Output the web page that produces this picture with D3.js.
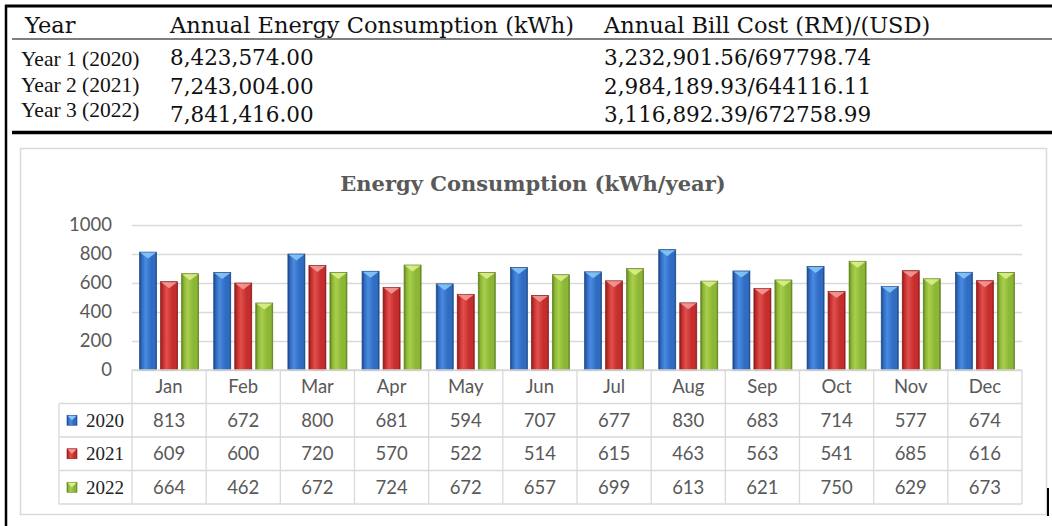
<!DOCTYPE html>
<html>
<head>
<meta charset="utf-8">
<script src="https://cdn.jsdelivr.net/npm/d3@7"></script>
<style>
  body { margin: 0; background: #fff; }
</style>
</head>
<body>
<div class="chart"></div>
<script>
// ---- data ----
const months = ['Jan', 'Feb', 'Mar', 'Apr', 'May', 'Jun', 'Jul', 'Aug', 'Sep', 'Oct', 'Nov', 'Dec']
const seriesYears = ['2020', '2021', '2022']
const values2020 = [813, 672, 800, 681, 594, 707, 677, 830, 683, 714, 577, 674]
const values2021 = [609, 600, 720, 570, 522, 514, 615, 463, 563, 541, 685, 616]
const values2022 = [664, 462, 672, 724, 672, 657, 699, 613, 621, 750, 629, 673]
const yTicks = [0, 200, 400, 600, 800, 1000]
const chartTitle = 'Energy Consumption (kWh/year)'

const summaryHeaders = ['Year', 'Annual Energy Consumption (kWh)', 'Annual Bill Cost (RM)/(USD)']
const summaryYears = ['Year 1 (2020)', 'Year 2 (2021)', 'Year 3 (2022)']
const annualEnergy = ['8,423,574.00', '7,243,004.00', '7,841,416.00']
const annualBill = ['3,232,901.56/697798.74', '2,984,189.93/644116.11', '3,116,892.39/672758.99']

const seriesValues = { '2020': values2020, '2021': values2021, '2022': values2022 }

// bar look: edge, mid, light, top facet
const palette = {
    '2020': { dark: '#1c4785', base: '#2f6cc2', light: '#4a8ae0', top: '#86c6f7' },
    '2021': { dark: '#8a1b1b', base: '#c52e2c', light: '#e0504c', top: '#f39a96' },
    '2022': { dark: '#5f7f1d', base: '#8cb636', light: '#a8cf4c', top: '#dcf08a' }
}

const W = 1052, H = 526
const grey = '#595959', gridCol = '#d9d9d9'
const serif = '"DejaVu Serif", serif'
const times = '"Liberation Serif", "Times New Roman", serif'
const sans = 'Lato, "Open Sans", sans-serif'

const svg = d3.select('.chart').append('svg')
    .attr('width', W)
    .attr('height', H)
    .style('display', 'block')

svg.append('rect').attr('width', W).attr('height', H).attr('fill', '#fff')

// ---- summary table at the top ----
const frame = svg.append('g')
frame.append('line').attr('x1', 5).attr('x2', W).attr('y1', 6).attr('y2', 6)
    .attr('stroke', '#000').attr('stroke-width', 3)
frame.append('line').attr('x1', 6).attr('x2', 6).attr('y1', 5).attr('y2', H)
    .attr('stroke', '#000').attr('stroke-width', 2.5)
frame.append('line').attr('x1', 12).attr('x2', W).attr('y1', 39).attr('y2', 39)
    .attr('stroke', '#000').attr('stroke-width', 1.2)
frame.append('line').attr('x1', 12).attr('x2', W).attr('y1', 132.5).attr('y2', 132.5)
    .attr('stroke', '#000').attr('stroke-width', 3.5)

const colX = [25, 170, 604]
frame.selectAll('text.head')
    .data(summaryHeaders)
    .enter().append('text')
    .attr('class', 'head')
    .attr('x', (d, i) => colX[i])
    .attr('y', 33)
    .style('font-family', serif)
    .style('font-size', '22.5px')
    .attr('fill', '#111')
    .text(d => d)

frame.selectAll('text.yr')
    .data(summaryYears)
    .enter().append('text')
    .attr('class', 'yr')
    .attr('x', 21)
    .attr('y', (d, i) => 66 + i * 25.5)
    .style('font-family', times)
    .style('font-size', '21.5px')
    .attr('fill', '#111')
    .text(d => d)

;[annualEnergy, annualBill].forEach((col, c) => {
    frame.selectAll(`text.num${c}`)
        .data(col)
        .enter().append('text')
        .attr('class', `num${c}`)
        .attr('x', colX[c + 1])
        .attr('y', (d, i) => 65 + i * 28.5)
        .style('font-family', serif)
        .style('font-size', '21.5px')
        .attr('fill', '#111')
        .text(d => d)
})

// ---- chart box ----
svg.append('rect')
    .attr('x', 20.5).attr('y', 148.5)
    .attr('width', 1026).attr('height', 366)
    .attr('fill', '#fff')
    .attr('stroke', gridCol)
    .attr('stroke-width', 1.5)

svg.append('line').attr('x1', 1048).attr('x2', 1048).attr('y1', 488).attr('y2', 516)
    .attr('stroke', '#000').attr('stroke-width', 2)

svg.append('text')
    .attr('x', 533)
    .attr('y', 191)
    .attr('text-anchor', 'middle')
    .style('font-family', serif)
    .style('font-weight', 'bold')
    .style('font-size', '21px')
    .attr('fill', grey)
    .text(chartTitle)

const x = d3.scaleBand().domain(months).range([132, 1022])
const xs = d3.scaleBand().domain(seriesYears).range([0, x.bandwidth()])
    .paddingInner(0.19).paddingOuter(0.36)
const y = d3.scaleLinear().domain([0, 1000]).range([370, 225])

// gridlines
const grid = svg.append('g')
    .attr('transform', 'translate(132,0)')
    .call(d3.axisLeft(y).tickValues(yTicks).tickSize(-(1022 - 132)).tickFormat(''))
grid.select('.domain').remove()
grid.selectAll('line').attr('stroke', gridCol).attr('stroke-width', 1.3)

const yAxis = svg.append('g')
    .attr('transform', 'translate(132,0)')
    .call(d3.axisLeft(y).tickValues(yTicks).tickSize(0).tickPadding(20).tickFormat(d3.format('d')))
yAxis.select('.domain').remove()
yAxis.selectAll('text')
    .style('font-family', sans)
    .style('font-size', '18.5px')
    .attr('fill', grey)

// gradients
const defs = svg.append('defs')
seriesYears.forEach(s => {
    const p = palette[s]
    const g = defs.append('linearGradient').attr('id', `grad${s}`)
        .attr('x1', '0%').attr('x2', '100%').attr('y1', '0%').attr('y2', '0%')
    ;[[0, p.dark], [0.14, p.base], [0.35, p.light], [0.7, p.base], [0.9, p.base], [1, p.dark]]
        .forEach(([o, c]) => g.append('stop').attr('offset', o).attr('stop-color', c))
})

// bars
seriesYears.forEach(s => {
    const p = palette[s]
    const rows = months.map((m, i) => ({ month: m, value: seriesValues[s][i] }))
    const g = svg.append('g').attr('class', `series-${s}`)
    g.selectAll('rect')
        .data(rows)
        .enter().append('rect')
        .attr('x', d => x(d.month) + xs(s))
        .attr('y', d => y(d.value))
        .attr('width', xs.bandwidth())
        .attr('height', d => y(0) - y(d.value))
        .attr('fill', `url(#grad${s})`)
        .attr('stroke', p.dark)
        .attr('stroke-width', 0.7)
    g.selectAll('path')
        .data(rows)
        .enter().append('path')
        .attr('d', d => {
            const x0 = x(d.month) + xs(s), w = xs.bandwidth(), y0 = y(d.value)
            return `M${x0 + 0.5},${y0 + 0.5} L${x0 + w - 0.5},${y0 + 0.5} L${x0 + w / 2},${y0 + 6.5} Z`
        })
        .attr('fill', p.top)
        .attr('opacity', 0.9)
})

// ---- data table under the bars ----
const rowKeys = ['month'].concat(seriesYears)
const r = d3.scaleBand().domain(rowKeys).range([370, 504])
const table = svg.append('g').attr('class', 'datatable')
const tLine = (x1, x2, y1, y2) => table.append('line')
    .attr('x1', x1).attr('x2', x2).attr('y1', y1).attr('y2', y2)
    .attr('stroke', gridCol).attr('stroke-width', 1.3)

tLine(132, 1022, r('month'), r('month'))
seriesYears.forEach(s => tLine(59, 1022, r(s), r(s)))
tLine(59, 1022, 504, 504)
tLine(59, 59, r(seriesYears[0]), 504)
months.forEach(m => tLine(x(m), x(m), 370, 504))
tLine(1022, 1022, 370, 504)

table.selectAll('text.month')
    .data(months)
    .enter().append('text')
    .attr('class', 'month')
    .attr('x', d => x(d) + x.bandwidth() / 2)
    .attr('y', r('month') + r.bandwidth() / 2)
    .attr('dy', '0.35em')
    .attr('text-anchor', 'middle')
    .style('font-family', sans)
    .style('font-size', '18.5px')
    .attr('fill', grey)
    .text(d => d)

seriesYears.forEach(s => {
    const p = palette[s]
    const cy = r(s) + r.bandwidth() / 2
    table.selectAll(`text.v${s}`)
        .data(seriesValues[s])
        .enter().append('text')
        .attr('class', `v${s}`)
        .attr('x', (d, i) => x(months[i]) + x.bandwidth() / 2)
        .attr('y', cy)
        .attr('dy', '0.35em')
        .attr('text-anchor', 'middle')
        .style('font-family', sans)
        .style('font-size', '18.5px')
        .attr('fill', grey)
        .text(d => d)

    // legend key
    table.append('rect')
        .attr('x', 67).attr('y', cy - 5)
        .attr('width', 10).attr('height', 10)
        .attr('fill', `url(#grad${s})`)
        .attr('stroke', p.dark).attr('stroke-width', 0.6)
    table.append('path')
        .attr('d', `M67.5,${cy - 4.5} L76.5,${cy - 4.5} L72,${cy} Z`)
        .attr('fill', p.top)
    table.append('text')
        .attr('x', 86)
        .attr('y', cy)
        .attr('dy', '0.35em')
        .style('font-family', times)
        .style('font-size', '19px')
        .attr('fill', '#222')
        .text(s)
})
</script>
</body>
</html>
